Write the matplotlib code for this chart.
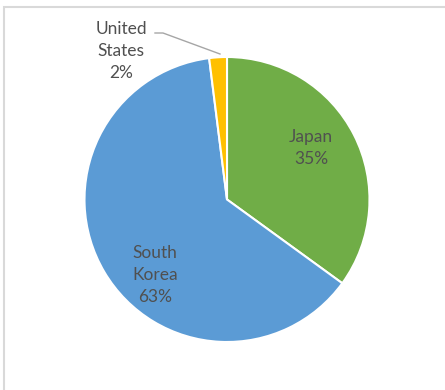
import matplotlib.pyplot as plt
from matplotlib.patches import Rectangle

# Share of the market by country
countries = ["Japan", "South Korea", "United States"]
shares = [35, 63, 2]
colors = ["#70AD47", "#5B9BD5", "#FFC000"]

W, H = 445, 390
fig = plt.figure(figsize=(W / 100, H / 100), dpi=100)
ax = fig.add_axes([0, 0, 1, 1])

# chart area frame
fig.patches.append(Rectangle((3.5 / W, -0.1), 1.2, (H - 6.5) / H + 0.1,
                             transform=fig.transFigure, fill=False,
                             edgecolor="#D9D9D9", linewidth=1.5))

cx, cy, r = 227, H - 199.5, 142.5
ax.pie(shares, colors=colors, startangle=90, counterclock=False,
       center=(cx, cy), radius=r, frame=True,
       wedgeprops=dict(edgecolor="white", linewidth=1.5))
ax.set_xlim(0, W)
ax.set_ylim(0, H)
ax.set_aspect("equal")
ax.axis("off")

# label anchors (pixel coordinates from top-left)
label_pos = [(311, 148), (155, 275), (121, 51)]
for name, val, (x, y) in zip(countries, shares, label_pos):
    txt = name.replace(" ", "\n") + f"\n{val}%"
    ax.text(x, H - y, txt, ha="center", va="center", fontsize=12.5,
            family="Lato", color="#505050", linespacing=1.45)

# leader line for the small slice
ax.plot([155, 163, 220], [H - 33, H - 33, H - 54], color="#A6A6A6", lw=1)

fig.savefig("out.png", dpi=100)
